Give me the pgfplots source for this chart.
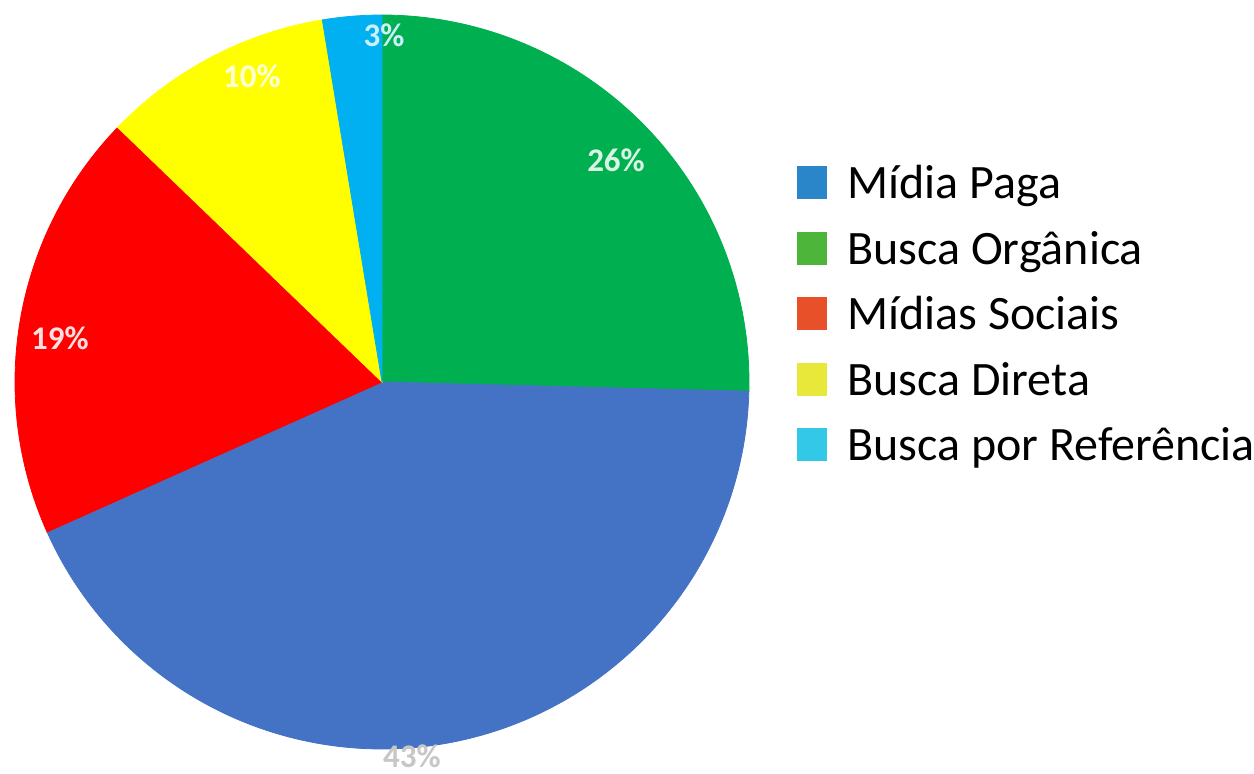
\documentclass[border=0pt]{standalone}
\usepackage{pgfplots}
\pgfplotsset{compat=1.18}
\usepackage{fontspec}
\setmainfont{Carlito}
\definecolor{pgreen}{HTML}{00B050}
\definecolor{pblue}{HTML}{4472C4}
\definecolor{pred}{HTML}{FF0000}
\definecolor{pyellow}{HTML}{FFFF00}
\definecolor{pcyan}{HTML}{00B0F0}
\definecolor{lblue}{HTML}{2A86C8}
\definecolor{lgreen}{HTML}{4CB53A}
\definecolor{lred}{HTML}{E8502A}
\definecolor{lyellow}{HTML}{E8E83A}
\definecolor{lcyan}{HTML}{33C8E8}
% slice shares (percent)
\def\vGreen{25.4}
\def\vBlue{42.9}
\def\vRed{18.9}
\def\vYellow{10.2}
\def\vCyan{2.6}
\begin{document}
\begin{tikzpicture}
\useasboundingbox (0,0) rectangle (627pt,386.5pt);
\begin{axis}[
  at={(0,0)}, anchor=south west,
  scale only axis, width=627pt, height=386.5pt,
  xmin=0, xmax=1254, ymin=0, ymax=773,
  hide axis, clip=false,
  legend style={at={(axis cs:791,611)}, anchor=north west, draw=none, fill=none,
    font=\fontsize{24}{28}\selectfont, row sep=11pt,
    nodes={inner sep=0pt, text height=16pt, text depth=5.5pt}},
  legend cell align=left,
  legend image code/.code={\fill[#1] (0pt,-5.5pt) rectangle (15pt,11pt); \path (25pt,0pt);},
]
\addplot[fill=pgreen, draw=pgreen, domain={90-\vGreen*3.6}:90, samples=120, variable=\t, forget plot]
  ({382+367*cos(t)},{391+367*sin(t)}) -- (axis cs:382,391) -- cycle;
\addplot[fill=pblue, draw=pblue, domain={90-(\vGreen+\vBlue)*3.6}:{90-\vGreen*3.6}, samples=160, variable=\t, forget plot]
  ({382+367*cos(t)},{391+367*sin(t)}) -- (axis cs:382,391) -- cycle;
\addplot[fill=pred, draw=pred, domain={90-(\vGreen+\vBlue+\vRed)*3.6}:{90-(\vGreen+\vBlue)*3.6}, samples=100, variable=\t, forget plot]
  ({382+367*cos(t)},{391+367*sin(t)}) -- (axis cs:382,391) -- cycle;
\addplot[fill=pyellow, draw=pyellow, domain={90-(\vGreen+\vBlue+\vRed+\vYellow)*3.6}:{90-(\vGreen+\vBlue+\vRed)*3.6}, samples=60, variable=\t, forget plot]
  ({382+367*cos(t)},{391+367*sin(t)}) -- (axis cs:382,391) -- cycle;
\addplot[fill=pcyan, draw=pcyan, domain={90-(\vGreen+\vBlue+\vRed+\vYellow+\vCyan)*3.6}:{90-(\vGreen+\vBlue+\vRed+\vYellow)*3.6}, samples=30, variable=\t, forget plot]
  ({382+367*cos(t)},{391+367*sin(t)}) -- (axis cs:382,391) -- cycle;
% value labels
\node[font=\fontsize{16.5}{18}\selectfont\bfseries, text=white!85!pgreen] at (axis cs:616,613) {26\%};
\node[font=\fontsize{16.5}{18}\selectfont\bfseries, text=black!22] at (axis cs:412,17) {43\%};
\node[font=\fontsize{16.5}{18}\selectfont\bfseries, text=white!88!pred] at (axis cs:60,435) {19\%};
\node[font=\fontsize{16.5}{18}\selectfont\bfseries, text=white!85!pyellow] at (axis cs:252,697) {10\%};
\node[font=\fontsize{16.5}{18}\selectfont\bfseries, text=white!80!pcyan] at (axis cs:384,738) {3\%};
% legend
\addlegendimage{fill=lblue, draw=none}\addlegendentry{Mídia Paga}
\addlegendimage{fill=lgreen, draw=none}\addlegendentry{Busca Orgânica}
\addlegendimage{fill=lred, draw=none}\addlegendentry{Mídias Sociais}
\addlegendimage{fill=lyellow, draw=none}\addlegendentry{Busca Direta}
\addlegendimage{fill=lcyan, draw=none}\addlegendentry{Busca por Referência}
\end{axis}
\end{tikzpicture}
\end{document}
